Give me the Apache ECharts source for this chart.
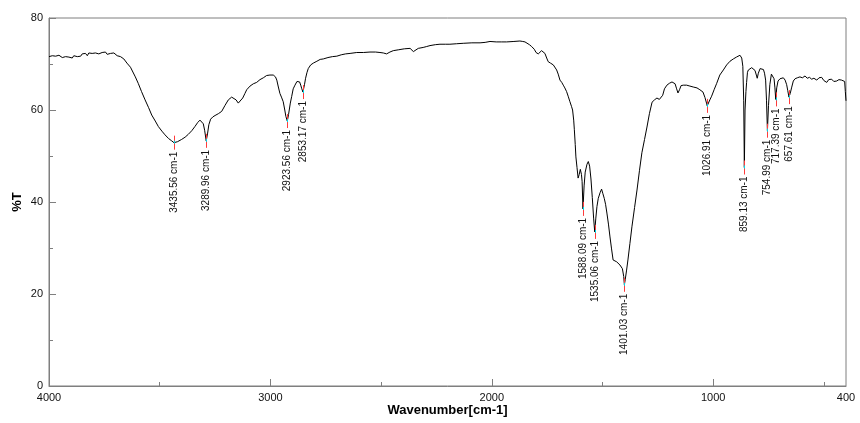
<!DOCTYPE html>
<html>
<head>
<meta charset="utf-8">
<script src="https://cdn.jsdelivr.net/npm/echarts@6/dist/echarts.min.js"></script>
<style>
html,body{margin:0;padding:0;background:#fff;}
#chart{width:860px;height:423px;}
</style>
</head>
<body>
<div id="chart"></div>
<script>
// ---- Data ----
const wavenumbers = [
4000,3992,3985,3978,3970,3962,3955,3948,3940,3933,3925,3918,3910,3903,3895,3888,3880,3872,3865,3857,
3850,3842,3835,3827,3820,3812,3805,3797,3790,3782,3775,3767,3760,3752,3745,3737,3730,3722,3715,3707,
3700,3692,3685,3677,3670,3662,3655,3648,3640,3632,3625,3610,3597,3582,3566,3550,3536,3520,3506,3490,
3476,3460,3446,3435.56,3420,3401,3385,3371,3355,3341,3328,3318,3310,3303,3297,3289.96,3284,3278,3270,3260,
3250,3235,3220,3205,3190,3175,3167,3155,3145,3137,3125,3115,3107,3092,3077,3062,3047,3032,3017,3002,
2987,2977,2971,2964,2957,2950,2942,2935,2930,2923.56,2918,2910,2904,2897,2889,2880,2874,2868,2863,2858,
2853.17,2846,2841,2835,2829,2818,2806,2790,2775,2761,2740,2720,2700,2680,2660,2640,2610,2580,2550,2525,
2505,2490,2475,2460,2445,2420,2395,2369,2360,2354,2345,2332,2310,2294,2279,2255,2234,2210,2189,2160,
2129,2090,2053,2030,2008,1980,1955,1933,1900,1873,1860,1850,1842,1830,1820,1808,1800,1790,1782,1775,
1768,1760,1752,1745,1735,1722,1714,1707,1700,1692,1684,1677,1670,1662,1655,1647,1640,1635,1630,1627,
1623,1620,1615,1610,1605,1600,1595,1592,1588.09,1583,1578,1570,1564,1558,1552,1546,1540,1535.06,1530,1525,
1519,1511,1504,1498,1492,1486,1480,1473,1466,1459,1452,1436,1421,1410,1404,1401.03,1397,1391,1385,1376,
1367,1355,1344,1333,1322,1310,1299,1288,1276,1265,1254,1243,1235,1228,1220,1209,1198,1186,1178,1172,
1165,1159,1152,1145,1135,1120,1105,1090,1073,1060,1046,1037,1030,1026.91,1022,1015,1007,995,984,970,
954,939,924,909,895,879,871,866,862,859.13,856,852,849,845,841,833,826,818,811,805,
801,796,788,780,773,768,763,759,754.99,750,744,737,731,725,721,717.39,713,707,698,690,
683,675,668,663,657.61,652,646,638,630,620,608,597,585,575,565,555,545,532,522,510,
500,487,478,465,455,448,442,432,420,412,406,403,400
];
const transmittance = [
71.6,71.5,71.8,71.6,71.7,71.5,71.9,71.6,71.4,71.8,71.6,72.0,71.5,71.9,71.3,71.8,72.1,71.6,72.0,71.7,
72.2,71.9,72.3,71.8,72.4,72.0,72.3,71.9,72.4,72.1,72.2,71.8,72.5,72.2,72.6,72.1,72.4,72.3,72.0,72.4,
72.2,71.8,72.0,71.6,71.6,71.1,70.9,70.2,69.8,69.3,68.9,67.2,65.8,64.0,62.2,60.5,58.9,57.6,56.4,55.4,
54.6,53.8,53.3,52.9,53.1,53.6,54.1,54.7,55.5,56.4,57.3,57.8,57.6,57.0,55.6,53.3,54.8,56.8,58.0,58.5,
58.8,59.2,59.7,61.0,62.2,62.8,62.8,62.2,61.5,61.4,62.6,63.6,64.4,65.2,65.7,66.0,66.6,67.0,67.5,67.6,
67.6,67.2,66.5,65.0,63.6,62.8,61.8,60.0,58.6,57.6,59.0,61.5,62.9,64.6,65.4,66.2,66.5,66.1,65.4,64.6,
63.9,65.5,66.9,68.1,69.0,69.8,70.2,70.6,71.0,71.1,71.4,71.6,71.7,72.0,72.2,72.3,72.5,72.5,72.6,72.6,
72.5,72.4,72.2,72.6,72.9,73.1,73.3,73.4,73.0,72.7,73.1,73.4,73.6,73.8,74.0,74.2,74.3,74.3,74.3,74.4,
74.5,74.6,74.6,74.7,74.9,74.8,74.8,74.8,74.9,75.0,74.9,74.8,74.6,74.2,73.8,73.2,72.5,72.2,72.6,72.9,
72.7,72.3,71.3,70.5,70.2,69.8,69.4,68.7,67.8,66.5,66.0,65.4,64.8,64.0,63.0,61.8,60.8,60.0,57.8,55.7,
52.5,49.8,47.5,45.2,46.0,47.1,46.0,44.5,38.5,43.5,46.5,48.2,48.8,47.8,45.0,41.0,36.5,33.5,36.5,39.0,
40.8,42.0,42.8,41.8,40.8,39.5,37.6,35.2,32.4,29.8,27.4,27.0,26.3,25.5,23.8,22.0,23.2,25.2,27.4,31.0,
34.6,38.8,42.6,46.8,50.7,53.6,56.3,59.2,61.7,62.2,62.6,62.3,62.6,63.2,64.6,65.4,65.8,66.1,66.0,65.7,
64.6,63.7,64.4,65.3,65.4,65.4,65.2,65.0,64.8,64.4,63.9,62.7,61.5,60.9,61.3,62.2,63.0,64.5,65.8,67.6,
68.7,69.8,70.6,71.1,71.5,71.9,71.3,69.5,62.0,47.5,60.0,64.0,66.0,68.2,68.7,69.0,69.2,68.9,68.6,67.6,
66.9,68.0,69.0,69.0,68.8,68.0,66.5,62.0,55.5,61.0,65.5,67.8,67.9,66.8,64.8,62.3,64.8,66.3,66.8,67.0,
67.0,66.5,65.5,64.2,62.8,63.6,64.8,66.3,66.8,67.0,67.2,67.0,67.4,66.9,67.1,66.7,66.9,66.5,67.0,67.1,
66.4,66.0,66.6,66.7,66.2,66.5,66.3,66.6,66.5,66.8,66.2,64.0,62.0
];
const peakWavenumbers = [3435.56,3289.96,2923.56,2853.17,1588.09,1535.06,1401.03,1026.91,859.13,754.99,717.39,657.61];
const peakValues      = [52.9,   53.3,   57.6,   63.9,   38.5,   33.5,   22.0,   60.9,   47.5,  55.5,  62.3,  62.8];
const peakLabels      = peakWavenumbers.map(v => v.toFixed(2) + ' cm-1');
const xMajorTicks = [4000,3000,2000,1000];
const xMinorTicks = [3500,2500,1500,500];
const xTickLabels = [4000,3000,2000,1000,400];

const spectrum = wavenumbers.map((w,i) => [w, transmittance[i]]);
const peaks = peakWavenumbers.map((w,i) => [w, peakValues[i], peakLabels[i]]);

const FONT = 'Liberation Sans, Arial, sans-serif';
const AXIS_COLOR = '#7f7f7f';

const chart = echarts.init(document.getElementById('chart'), null, {renderer:'canvas'});
chart.setOption({
  animation:false,
  backgroundColor:'#fff',
  grid:{left:49,right:14,top:18,bottom:37,show:true,borderColor:AXIS_COLOR,borderWidth:1,
        backgroundColor:'transparent',containLabel:false,outerBoundsMode:'none'},
  xAxis:[{
    type:'value', inverse:true, min:400, max:4000,
    name:'Wavenumber[cm-1]', nameLocation:'middle', nameGap:18, nameMoveOverlap:false,
    nameTextStyle:{fontFamily:FONT,fontSize:13,fontWeight:'bold',color:'#000'},
    axisLine:{show:true,lineStyle:{color:AXIS_COLOR,width:1}},
    axisTick:{show:true,inside:true,length:7,lineStyle:{color:AXIS_COLOR},customValues:xMajorTicks},
    axisLabel:{show:true,margin:6,fontFamily:FONT,fontSize:11,color:'#111',customValues:xTickLabels,
               formatter:function(v){return String(v);}},
    splitLine:{show:false}
  },{
    type:'value', inverse:true, min:400, max:4000, position:'bottom',
    axisLine:{show:false},
    axisTick:{show:true,inside:true,length:4,lineStyle:{color:AXIS_COLOR},customValues:xMinorTicks},
    axisLabel:{show:false},
    splitLine:{show:false}
  }],
  yAxis:{
    type:'value', min:0, max:80, interval:20,
    name:'%T', nameLocation:'middle', nameGap:25, nameRotate:90, nameMoveOverlap:false,
    nameTextStyle:{fontFamily:FONT,fontSize:13,fontWeight:'bold',color:'#000'},
    axisLine:{show:true,lineStyle:{color:AXIS_COLOR,width:1}},
    axisTick:{show:true,inside:true,length:7,lineStyle:{color:AXIS_COLOR}},
    minorTick:{show:true,splitNumber:2,length:4,lineStyle:{color:AXIS_COLOR}},
    axisLabel:{margin:6,fontFamily:FONT,fontSize:11,color:'#111',formatter:function(v){return String(v);}},
    splitLine:{show:false}
  },
  series:[{
    type:'line', xAxisIndex:0, data:spectrum, showSymbol:false, symbol:'none',
    lineStyle:{color:'#000',width:1}, z:3, silent:true
  },{
    type:'custom', xAxisIndex:0, data:peaks, z:4, silent:true,
    renderItem:function(params, api){
      const p = api.coord([api.value(0), api.value(1)]);
      const x = Math.round(p[0]) + 0.5, y = p[1];
      return {type:'group', children:[
        {type:'line', shape:{x1:x,y1:y-7,x2:x,y2:y+7}, style:{stroke:'#ff3b3b',lineWidth:1}},
        {type:'line', shape:{x1:x,y1:y-2,x2:x,y2:y+1}, style:{stroke:'#00d8e8',lineWidth:1}},
        {type:'text', x:x, y:y+9, rotation:Math.PI/2,
          style:{text:peakLabels[params.dataIndex], align:'right', verticalAlign:'middle',
                 fill:'#111', font:'10px ' + FONT}}
      ]};
    }
  }]
});
</script>
</body>
</html>
